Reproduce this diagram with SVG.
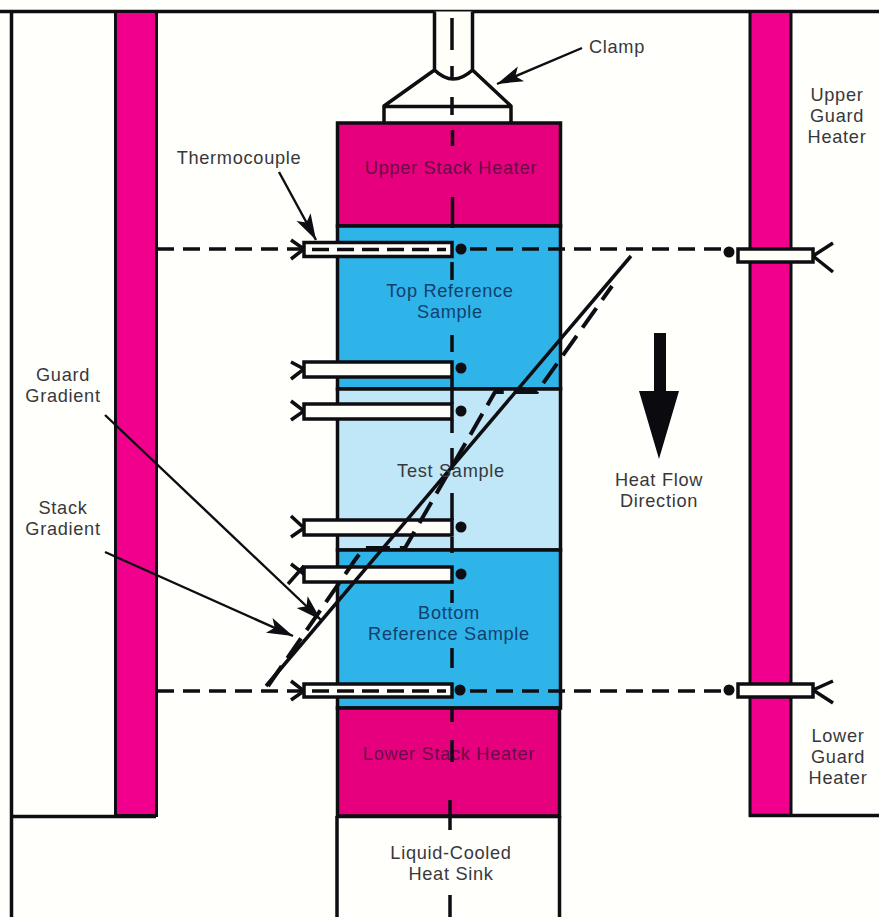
<svg xmlns="http://www.w3.org/2000/svg" width="879" height="917" viewBox="0 0 879 917">
<style>
.l{fill:none;stroke:#0d0d12;stroke-width:3.500}
.thin{fill:none;stroke:#0d0d12;stroke-width:2.400}
.d{fill:none;stroke:#0d0d12;stroke-width:3.500;stroke-dasharray:17 9}
.g{fill:none;stroke:#0d0d12;stroke-width:4;stroke-dasharray:24 10;stroke-linejoin:round}
.tc{fill:#fffef8;stroke:#0d0d12;stroke-width:3.500}
.y{fill:none;stroke:#0d0d12;stroke-width:3.500}
.dot{fill:#0d0d12}
text{font-family:"Liberation Sans",Arial,sans-serif;font-size:18.200px;letter-spacing:.7px;text-anchor:middle;fill:#38383c}
.m{fill:#6a0a48}.b{fill:#12406e}
</style>
<defs>
<marker id="ah" markerUnits="userSpaceOnUse" markerWidth="28" markerHeight="20" refX="26" refY="10" orient="auto"><path d="M0 2 L26 10 L0 18 L6 10 Z" fill="#0d0d12"/></marker>
</defs>
<rect width="879" height="917" fill="#fffffb"/>
<g id="frame">
<path class="l" d="M0 11.500H879M11.500 11.500V917M11.500 816.500H156"/>
</g>
<g id="left-guard-heater">
<rect x="115.500" y="11.500" width="41" height="804" fill="#f0008c" stroke="#0d0d12" stroke-width="3"/>
</g>
<g id="right-guard-heater">
<rect x="750" y="11.500" width="41" height="804" fill="#f0008c" stroke="#0d0d12" stroke-width="3"/>
<path class="l" d="M749 815.500H879"/>
<text x="837" y="101">Upper</text><text x="837" y="122">Guard</text><text x="837" y="143">Heater</text>
<text x="838" y="742">Lower</text><text x="838" y="763">Guard</text><text x="838" y="784">Heater</text>
</g>
<g id="clamp">
<path fill="#fffef8" stroke="#0d0d12" stroke-width="3.500" stroke-linejoin="round" d="M434.500 11.500V70Q453 88 472.500 70V11.500M434.500 70L384 106V123M472.500 70L511 106V123M384 106.500H511"/>
<text x="617" y="53">Clamp</text>
</g>
<g id="upper-stack-heater">
<rect x="337.500" y="123" width="223" height="103" fill="#e6007e" stroke="#0d0d12" stroke-width="3.500"/>
<text class="m" x="451" y="174">Upper Stack Heater</text>
</g>
<g id="top-reference-sample">
<rect x="337.500" y="226" width="223" height="163" fill="#2fb4ea" stroke="#0d0d12" stroke-width="3.500"/>
<text class="b" x="450" y="297">Top Reference</text><text class="b" x="450" y="318">Sample</text>
</g>
<g id="test-sample">
<rect x="337.500" y="389" width="223" height="161" fill="#c0e7f7" stroke="#0d0d12" stroke-width="3.500"/>
</g>
<g id="bottom-reference-sample">
<rect x="337.500" y="550" width="223" height="158" fill="#2fb4ea" stroke="#0d0d12" stroke-width="3.500"/>
<text class="b" x="449" y="619">Bottom</text><text class="b" x="449" y="640">Reference Sample</text>
</g>
<g id="lower-stack-heater">
<rect x="337.500" y="708" width="222" height="108" fill="#e6007e" stroke="#0d0d12" stroke-width="3.500"/>
<text class="m" x="449" y="760">Lower Stack Heater</text>
</g>
<g id="heat-sink">
<path class="l" d="M337 816V917M559.500 816V917M337 816.500H560"/>
<text x="451" y="859">Liquid-Cooled</text><text x="451" y="880">Heat Sink</text>
</g>
<g id="thermocouples">
<path class="l" d="M452 18V50M452 66V80M452 97V115M452.500 130V146M452.500 197V228M452 262V280M452 335V352M452 378V404M452 420V433M452 448V470M452 493V520M452 537V553M452 590V603M452 648V668M452 708V722M452 740V762M450 800V830M450 895V917"/>
<path class="d" d="M157 249H304M470 249H730M157 691H304M470 691H730"/>
<path class="y" d="M291 240L304 249L291 259M291 362L304 369L291 379M291 401L304 411L291 420M291 516L304 528L291 537M288 584L304 566M291 564L304 574M291 681L304 691L291 700M833 243L813 256L833 272M833 681L813 690L833 703"/>
<rect class="tc" x="304" y="242.500" width="148" height="14"/>
<rect class="tc" x="304" y="362" width="148" height="15"/>
<rect class="tc" x="304" y="404" width="148" height="15"/>
<rect class="tc" x="304" y="520" width="148" height="15"/>
<rect class="tc" x="304" y="567" width="148" height="15"/>
<rect class="tc" x="304" y="684" width="148" height="13"/>
<rect class="tc" x="738" y="249" width="75" height="13"/>
<rect class="tc" x="738" y="684" width="75" height="13"/>
<path class="l" d="M312 249.500H446M312 691H446" stroke-dasharray="17 8"/>
<circle class="dot" cx="461" cy="249" r="5.500"/><circle class="dot" cx="461" cy="368" r="5.500"/><circle class="dot" cx="461" cy="411" r="5.500"/><circle class="dot" cx="461" cy="527" r="5.500"/><circle class="dot" cx="461" cy="574" r="5.500"/><circle class="dot" cx="460" cy="690" r="5.500"/><circle class="dot" cx="729" cy="252" r="5.500"/><circle class="dot" cx="729" cy="690" r="5.500"/>
</g>
<g id="connectors">
<path class="l" d="M266 686L631 256"/>
<path class="g" d="M268 686L355 560L364 548H405L495 392H537L612 286"/>
<path class="thin" marker-end="url(#ah)" d="M582 48L497 84"/>
<path class="thin" marker-end="url(#ah)" d="M279 172L316 240"/>
<path class="thin" marker-end="url(#ah)" d="M105 415L321 620"/>
<path class="thin" marker-end="url(#ah)" d="M105 552L293 636"/>
</g>
<g id="labels">
<text x="239" y="164">Thermocouple</text>
<text x="63" y="381">Guard</text><text x="63" y="402">Gradient</text>
<text x="63" y="514">Stack</text><text x="63" y="535">Gradient</text>
<text x="451" y="477">Test Sample</text>
<text x="659" y="486">Heat Flow</text><text x="659" y="507">Direction</text>
</g>
<g id="heat-flow-arrow">
<path fill="#0a0a0f" d="M654 333H666V391H679L659 459L639 391H654Z"/>
</g>
</svg>
